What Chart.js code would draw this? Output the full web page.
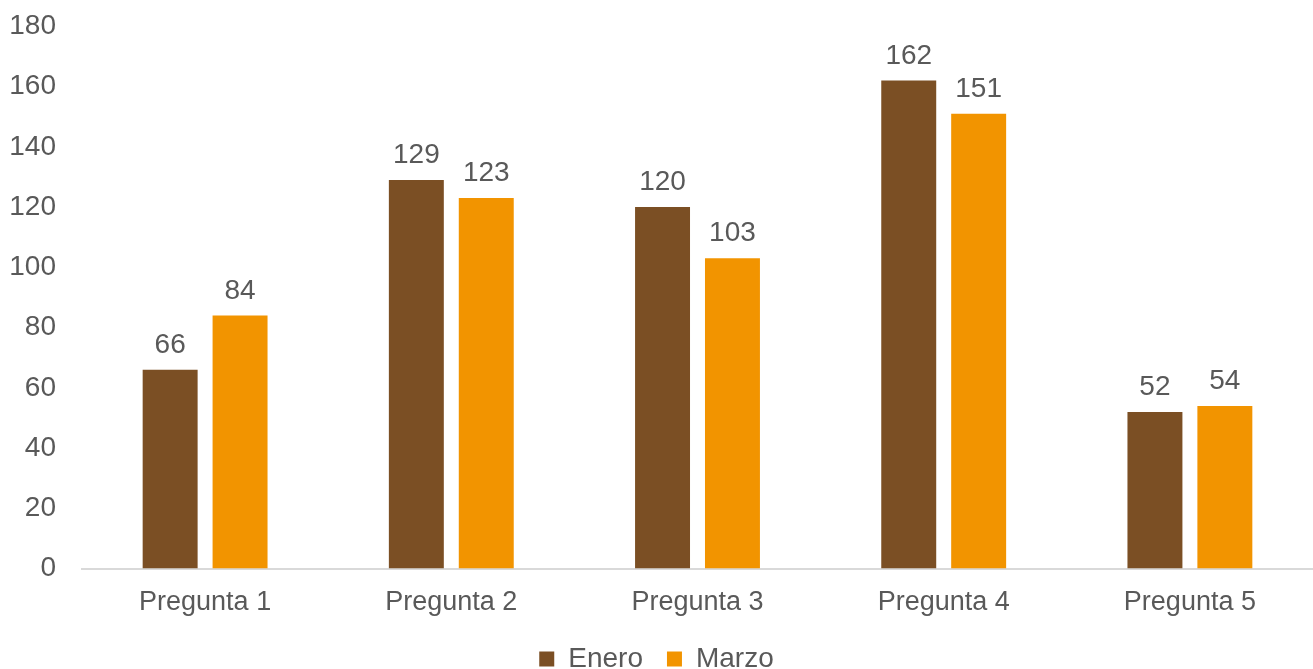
<!DOCTYPE html>
<html>
<head>
<meta charset="utf-8">
<script src="https://cdn.jsdelivr.net/npm/chart.js@4.4.1/dist/chart.umd.min.js"></script>
<style>
    html, body { margin: 0; padding: 0; background: #fff; overflow: hidden; }
    #wrap { width: 1313px; height: 683px; }
</style>
</head>
<body>
<div id="wrap"><canvas id="preguntasChart"></canvas></div>
<script>
var categories = ['Pregunta 1', 'Pregunta 2', 'Pregunta 3', 'Pregunta 4', 'Pregunta 5'];
var enero = [66, 129, 120, 162, 52];
var marzo = [84, 123, 103, 151, 54];
var yTicks = [0, 20, 40, 60, 80, 100, 120, 140, 160, 180];

var textColor = '#595959';
var fontFamily = '"Liberation Sans", Arial, sans-serif';

// labels drawn above each bar
var valueLabels = {
    id: 'valueLabels',
    afterDatasetsDraw: function(chart) {
        var ctx = chart.ctx;
        ctx.save();
        ctx.font = '28px ' + fontFamily;
        ctx.fillStyle = textColor;
        ctx.textAlign = 'center';
        ctx.textBaseline = 'alphabetic';
        chart.data.datasets.forEach(function(ds, i) {
            chart.getDatasetMeta(i).data.forEach(function(bar, j) {
                ctx.fillText(ds.data[j], bar.x, bar.y - 17);
            });
        });
        ctx.restore();
    }
};

document.addEventListener('DOMContentLoaded', function() {
    var ctx = document.getElementById('preguntasChart').getContext('2d');
    new Chart(ctx, {
        type: 'bar',
        data: {
            labels: categories,
            datasets: [{
                label: 'Enero',
                data: enero,
                backgroundColor: '#7B4F24'
            }, {
                label: 'Marzo',
                data: marzo,
                backgroundColor: '#F29400'
            }]
        },
        options: {
            responsive: true,
            maintainAspectRatio: false,
            animation: false,
            categoryPercentage: 0.568,
            barPercentage: 0.786,
            layout: {
                padding: 0
            },
            plugins: {
                tooltip: { enabled: false },
                legend: {
                    position: 'bottom',
                    labels: {
                        color: textColor,
                        font: { family: fontFamily, size: 28 },
                        boxWidth: 15,
                        boxHeight: 15,
                        padding: 24
                    }
                }
            },
            scales: {
                x: {
                    afterFit: function(axis) {
                        axis.height = axis.height - 16;
                    },
                    grid: { display: false, drawTicks: false },
                    border: { color: '#D9D9D9', width: 2 },
                    ticks: {
                        color: textColor,
                        font: { family: fontFamily, size: 27 },
                        padding: 18
                    }
                },
                y: {
                    min: 0,
                    max: 180,
                    afterBuildTicks: function(axis) {
                        axis.ticks = yTicks.map(function(v) { return { value: v }; });
                    },
                    afterFit: function(axis) {
                        axis.width = 82;
                    },
                    grid: { display: false, drawTicks: false },
                    border: { display: false },
                    ticks: {
                        color: textColor,
                        font: { family: fontFamily, size: 28, lineHeight: 0.02 },
                        padding: 26
                    }
                }
            }
        },
        plugins: [valueLabels]
    });
});
</script>
</body>
</html>
